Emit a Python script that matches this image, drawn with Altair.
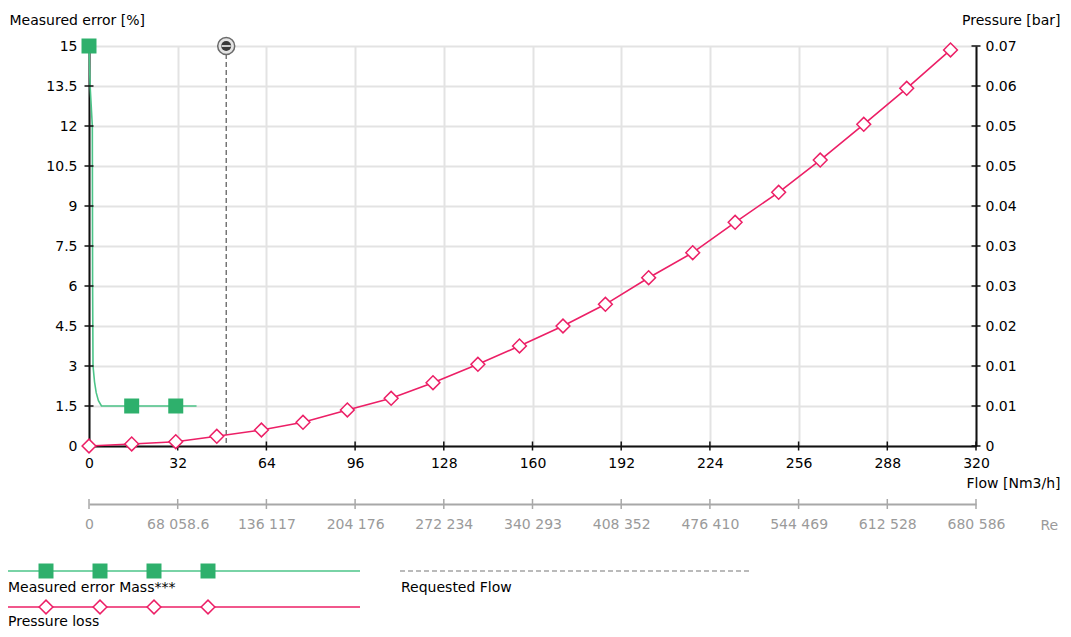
import altair as alt
import pandas as pd

# ---------------- data ----------------
pressure_flow = [0, 15.4, 31.3, 46.1, 62.2, 77.2, 93.2, 109.0, 124.1, 140.3, 155.3,
                 171.0, 186.3, 201.9, 217.8, 233.1, 248.8, 263.8, 279.5, 295.0, 310.8]
pressure_bar = [0.0, 0.00034, 0.00073, 0.00164, 0.0027, 0.0040, 0.00608, 0.00805,
                0.01068, 0.01379, 0.01688, 0.02025, 0.02391, 0.0284, 0.03262, 0.03775,
                0.04281, 0.04826, 0.05429, 0.06036, 0.06683]

error_curve_flow = [0, 0.4, 1.2, 1.3, 1.45, 2.0, 2.6, 3.4, 4.5, 15.4, 31.3, 38.8]
error_curve_pct = [15, 13.5, 12, 6, 3.0, 2.4, 2.0, 1.7, 1.5, 1.5, 1.5, 1.5]
error_point_flow = [0, 15.4, 31.3]
error_point_pct = [15, 1.5, 1.5]

requested_flow = [49.5]

flow_ticks = [0, 32, 64, 96, 128, 160, 192, 224, 256, 288, 320]
error_ticks = [0, 1.5, 3, 4.5, 6, 7.5, 9, 10.5, 12, 13.5, 15]
pressure_ticks = [0, 0.00675, 0.0135, 0.02025, 0.027, 0.03375, 0.0405, 0.04725,
                  0.054, 0.06075, 0.0675]
reynolds_ticks = [0, 68058.6, 136117, 204176, 272234, 340293, 408352, 476410,
                  544469, 612528, 680586]

legend_names = ["Measured error Mass***", "Pressure loss", "Requested Flow"]

# ---------------- style ----------------
FONT = "DejaVu Sans"
FS = 14
GREEN = "#2eb06c"
GREEN_LINE = "#4cc488"
PINK = "#ec1f66"
AXIS = "#111111"
GREY_AX = "#a8a8a8"
W, H = 887, 400

xs = alt.Scale(domain=[0, 320], nice=False, zero=False)
ys = alt.Scale(domain=[0, 15], nice=False, zero=False)
ps = alt.Scale(domain=[0, pressure_ticks[-1]], nice=False, zero=False)
rs = alt.Scale(domain=[0, reynolds_ticks[-1]], nice=False, zero=False)

common = dict(labelFont=FONT, labelFontSize=FS, titleFont=FONT, titleFontSize=FS,
              titleFontWeight="normal", titleAngle=0, titleBaseline="middle",
              labelOverlap=False, labelFlush=False, ticks=False)

err_df = pd.DataFrame({"flow": error_curve_flow, "err": error_curve_pct})
errp_df = pd.DataFrame({"flow": error_point_flow, "err": error_point_pct})
p_df = pd.DataFrame({"flow": pressure_flow, "p": pressure_bar})
req_df = pd.DataFrame({"flow": requested_flow, "top": [15], "bottom": [0]})
xt_df = pd.DataFrame({"flow": flow_ticks, "base": [0] * len(flow_ticks)})
yt_df = pd.DataFrame({"err": error_ticks, "base": [0] * len(error_ticks)})
pt_df = pd.DataFrame({"p": pressure_ticks, "edge": [320] * len(pressure_ticks)})
rt_df = pd.DataFrame({"re": reynolds_ticks})

# green line with main axes
green_line = alt.Chart(err_df).mark_line(color=GREEN_LINE, strokeWidth=1.6).encode(
    x=alt.X("flow:Q", scale=xs, axis=alt.Axis(
        values=flow_ticks, format="d", title="Flow [Nm3/h]", titleAlign="right",
        titleX=971, titleY=37, labelPadding=10, domainColor=AXIS, domainWidth=2,
        grid=True, gridColor="#e3e3e3", gridWidth=2, labelColor="#000",
        titleColor="#000", **common)),
    y=alt.Y("err:Q", scale=ys, axis=alt.Axis(
        values=error_ticks, labelExpr="toString(datum.value)",
        title="Measured error [%]", titleAlign="left",
        titleX=-80, titleY=-26, labelPadding=12, domainColor=AXIS, domainWidth=2,
        grid=True, gridColor="#e3e3e3", gridWidth=2, labelColor="#000",
        titleColor="#000", **common)),
)

# crossing tick marks on the axes
x_ticks = alt.Chart(xt_df).mark_tick(orient="vertical", size=9, thickness=1.5,
                                     color=AXIS, opacity=1).encode(
    x=alt.X("flow:Q", scale=xs, axis=None),
    y=alt.Y("base:Q", scale=ys, axis=None),
)
y_ticks = alt.Chart(yt_df).mark_tick(orient="horizontal", size=9, thickness=1.5,
                                     color=AXIS, opacity=1).encode(
    x=alt.X("base:Q", scale=xs, axis=None),
    y=alt.Y("err:Q", scale=ys, axis=None),
)
p_ticks = alt.Chart(pt_df).mark_tick(orient="horizontal", size=9, thickness=1.5,
                                     color=AXIS, opacity=1).encode(
    x=alt.X("edge:Q", scale=xs, axis=None),
    y=alt.Y("p:Q", scale=ps, axis=None),
)
r_ticks = alt.Chart(rt_df).mark_tick(orient="vertical", size=10, thickness=1.5,
                                     color=GREY_AX, opacity=1).encode(
    x=alt.X("re:Q", scale=rs, axis=alt.Axis(
        orient="bottom", offset=58, values=reynolds_ticks,
        labelExpr="replace(format(datum.value, ','), regexp(',', 'g'), ' ')",
        title="Re", titleAlign="left", titleX=951, titleY=21, labelPadding=13,
        domainColor=GREY_AX, domainWidth=2, grid=False, labelColor="#9a9a9a",
        titleColor="#9a9a9a", **common)),
    y=alt.value(H + 58),
)

req_rule = alt.Chart(req_df).mark_rule(color="#555", strokeWidth=1.2,
                                       strokeDash=[5, 3]).encode(
    x=alt.X("flow:Q", scale=xs, axis=None),
    y=alt.Y("top:Q", scale=ys, axis=None),
    y2="bottom:Q",
)
req_outer = alt.Chart(req_df).mark_point(shape="circle", filled=True, size=289,
                                         fill="#e4e4e4", stroke="#6a6a6a",
                                         strokeWidth=1.5, opacity=1).encode(
    x=alt.X("flow:Q", scale=xs, axis=None),
    y=alt.Y("top:Q", scale=ys, axis=None),
)
req_inner = alt.Chart(req_df).mark_point(shape="circle", filled=True, size=100,
                                         color="#3a3a3a", opacity=1).encode(
    x=alt.X("flow:Q", scale=xs, axis=None),
    y=alt.Y("top:Q", scale=ys, axis=None),
)
req_bar = alt.Chart(req_df).mark_point(shape="stroke", size=81, color="#ffffff",
                                       strokeWidth=1.5, opacity=1).encode(
    x=alt.X("flow:Q", scale=xs, axis=None),
    y=alt.Y("top:Q", scale=ys, axis=None),
)

pink_line = alt.Chart(p_df).mark_line(color=PINK, strokeWidth=1.6).encode(
    x=alt.X("flow:Q", scale=xs, axis=None),
    y=alt.Y("p:Q", scale=ps, axis=alt.Axis(
        orient="right", values=pressure_ticks,
        labelExpr="datum.value == 0 ? '0' : format(datum.value, '.2f')",
        title="Pressure [bar]", titleAlign="right", titleX=84, titleY=-26,
        labelPadding=9, domainColor=AXIS, domainWidth=2, grid=False,
        labelColor="#000", titleColor="#000", **common)),
)
pink_pts = alt.Chart(p_df).mark_point(shape="diamond", filled=True, size=190,
                                      fill="#ffffff", stroke=PINK, strokeWidth=1.5,
                                      opacity=1).encode(
    x=alt.X("flow:Q", scale=xs, axis=None),
    y=alt.Y("p:Q", scale=ps, axis=None),
)

green_pts = alt.Chart(errp_df).mark_point(shape="square", filled=True, size=225,
                                          color=GREEN, opacity=1).encode(
    x=alt.X("flow:Q", scale=xs, axis=None),
    y=alt.Y("err:Q", scale=ys, axis=None),
)

# ---------------- legend (drawn below the plot) ----------------
lg_marks_x = [-43, 11, 65, 119]

leg_green = alt.Chart(pd.DataFrame({"x": [-81], "x2": [271], "y": [525]})).mark_rule(
    color=GREEN_LINE, strokeWidth=1.6).encode(
    x=alt.X("x:Q", scale=None), x2="x2:Q", y=alt.Y("y:Q", scale=None))
leg_green_pts = alt.Chart(pd.DataFrame({"x": lg_marks_x, "y": [525] * 4})).mark_point(
    shape="square", filled=True, size=225, color=GREEN, opacity=1).encode(
    x=alt.X("x:Q", scale=None), y=alt.Y("y:Q", scale=None))
leg_pink = alt.Chart(pd.DataFrame({"x": [-81], "x2": [271], "y": [561]})).mark_rule(
    color=PINK, strokeWidth=1.6).encode(
    x=alt.X("x:Q", scale=None), x2="x2:Q", y=alt.Y("y:Q", scale=None))
leg_pink_pts = alt.Chart(pd.DataFrame({"x": lg_marks_x, "y": [561] * 4})).mark_point(
    shape="diamond", filled=True, size=190, fill="#ffffff", stroke=PINK,
    strokeWidth=1.5, opacity=1).encode(
    x=alt.X("x:Q", scale=None), y=alt.Y("y:Q", scale=None))
leg_dash = alt.Chart(pd.DataFrame({"x": [311], "x2": [661], "y": [525]})).mark_rule(
    color="#777", strokeWidth=1.2, strokeDash=[5, 3]).encode(
    x=alt.X("x:Q", scale=None), x2="x2:Q", y=alt.Y("y:Q", scale=None))
leg_text = alt.Chart(pd.DataFrame({"x": [-81, -81, 312], "y": [542, 576, 542],
                                   "t": legend_names})).mark_text(
    align="left", baseline="middle", font=FONT, fontSize=FS, color="#000").encode(
    x=alt.X("x:Q", scale=None), y=alt.Y("y:Q", scale=None), text="t:N")

chart = alt.layer(
    green_line, r_ticks, x_ticks, y_ticks, p_ticks, req_rule, pink_line, pink_pts,
    green_pts, req_outer, req_inner, req_bar,
    leg_green, leg_green_pts, leg_pink, leg_pink_pts, leg_dash, leg_text,
).resolve_scale(x="independent", y="independent").properties(
    width=W, height=H,
    padding={"left": 81, "top": 38, "right": 87, "bottom": 183},
    autosize=alt.AutoSizeParams(type="none"),
).configure_view(stroke=None).configure(font=FONT)

chart.save("out.html", embed_options={"renderer": "svg", "actions": False})
